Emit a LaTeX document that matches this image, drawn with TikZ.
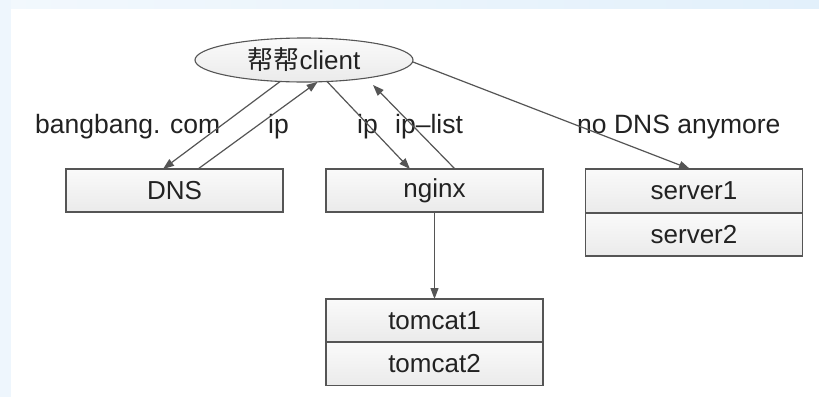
\documentclass[tikz,border=0pt]{standalone}
\usepackage{fontspec}
\setmainfont{Liberation Sans}
\newfontfamily\cjk{Noto Sans CJK SC}
\usetikzlibrary{arrows.meta,shapes.geometric}
\definecolor{edgec}{HTML}{555555}
\definecolor{txtc}{HTML}{222222}
\definecolor{bandA}{HTML}{F2F8FD}
\definecolor{bandB}{HTML}{E2F0FB}
\definecolor{bandL}{HTML}{EEF6FD}
\tikzset{
  boxnode/.style={draw=edgec, line width=1.1pt, rectangle, top color=gray!4, bottom color=gray!16,
    minimum width=217pt, minimum height=43pt, inner sep=0pt, outer sep=0pt, text=txtc,
    font=\fontsize{26}{30}\selectfont},
  ellnode/.style={draw=edgec, line width=1.1pt, ellipse, top color=gray!4, bottom color=gray!16,
    minimum width=218pt, minimum height=44pt, inner sep=0pt, outer sep=0pt, text=txtc,
    font=\fontsize{26}{30}\selectfont},
  lbl/.style={anchor=base west, inner sep=0pt, text=txtc, font=\fontsize{26.5}{30}\selectfont},
  conn/.style={draw=edgec, line width=1.2pt, -{Triangle[length=11pt,width=8pt]}}
}
\begin{document}
\begin{tikzpicture}[x=1pt,y=-1pt]
\useasboundingbox (0,0) rectangle (819,397);
\fill[white] (0,0) rectangle (819,397);
\shade[left color=bandA, right color=bandB] (0,0) rectangle (819,8);
\fill[bandL] (0,0) rectangle (11,397);

\node[ellnode] (client) at (304,60) {{\cjk 帮帮}client};
\node[boxnode] (dns) at (174.5,190.5) {DNS};
\node[boxnode] (nginx) at (434.5,190.5) {nginx};
\node[boxnode, minimum height=44pt] (srv1) at (694,191) {server1};
\node[boxnode] (srv2) at (694,234.5) {server2};
\node[boxnode] (tc1) at (434.5,320.5) {tomcat1};
\node[boxnode] (tc2) at (434.5,364) {tomcat2};

\node[lbl] (l1) at (35,133) {bangbang. com};
\node[lbl] (l2) at (268,133) {ip};
\node[lbl] (l3) at (357,133) {ip};
\node[lbl] (l4) at (395,133) {ip–list};
\node[lbl] (l5) at (577,133) {no DNS anymore};

\draw[conn] (client.222) -- ([xshift=-11.5pt]dns.north);
\draw[conn] ([xshift=23.5pt]dns.north) -- (client.302);
\draw[conn] (client.317) -- ([xshift=-24.5pt]nginx.north);
\draw[conn] ([xshift=20.5pt]nginx.north) -- ([xshift=69pt,yshift=-3pt]client.south);
\draw[conn] ([yshift=-2pt]client.east) -- ([xshift=-4pt]srv1.north);
\draw[conn] (nginx.south) -- (tc1.north);
\end{tikzpicture}
\end{document}
